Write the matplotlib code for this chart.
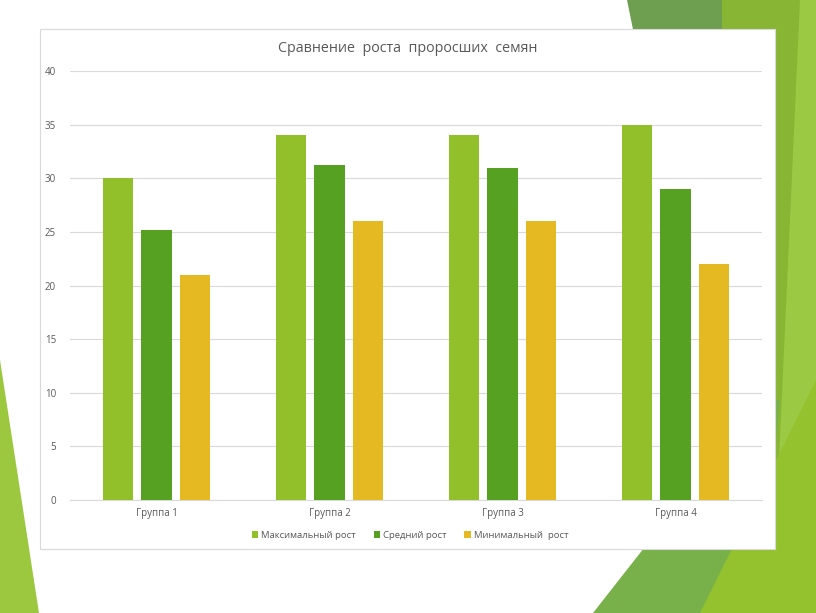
import matplotlib
matplotlib.use("Agg")
import matplotlib.pyplot as plt
from matplotlib.patches import Polygon, Rectangle
import numpy as np

categories = ["Группа 1", "Группа 2", "Группа 3", "Группа 4"]
series_names = ["Максимальный рост", "Средний рост", "Минимальный  рост"]
max_growth = [30, 34, 34, 35]
mean_growth = [25.2, 31.2, 31, 29]
min_growth = [21, 26, 26, 22]
colors = ["#92c02a", "#56a022", "#e4b921"]
title = "Сравнение  роста  проросших  семян"

W, H = 816, 613
fig = plt.figure(figsize=(W / 100, H / 100), dpi=100)
fig.patch.set_facecolor("white")
plt.rcParams['font.family'] = ['Open Sans', 'DejaVu Sans']

def px(pts):
    return [(x / W, 1 - y / H) for x, y in pts]

# decorative background shapes
shapes = [
    ([(627, 0), (722, 0), (735, 260), (680, 260)], "#6e9f50"),
    ([(722, 0), (816, 0), (816, 613), (722, 613)], "#88b634"),
    ([(800, 0), (816, 0), (816, 613), (772, 613)], "#9bc944"),
    ([(593, 613), (760, 613), (780, 400), (760, 400)], "#78b04a"),
    ([(700, 613), (816, 613), (816, 380)], "#93c22e"),
    ([(0, 360), (39, 613), (0, 613)], "#9cc840"),
]
for pts, c in shapes:
    fig.patches.append(Polygon(px(pts), closed=True, transform=fig.transFigure,
                               facecolor=c, edgecolor="none", zorder=0))

# chart box
fig.patches.append(Rectangle((40 / W, 1 - 549 / H), (775 - 40) / W, (549 - 29) / H,
                             transform=fig.transFigure, facecolor="white",
                             edgecolor="#d9d9d9", linewidth=0.8, zorder=1))

ax = fig.add_axes([70 / W, 1 - 500 / H, (762 - 70) / W, (500 - 71) / H])
ax.set_zorder(2)
ax.patch.set_alpha(0)

x = np.arange(len(categories))
bw = 0.175
off = 0.223
for i, (vals, c, name) in enumerate(zip([max_growth, mean_growth, min_growth], colors, series_names)):
    ax.bar(x + (i - 1) * off, vals, width=bw, color=c, label=name, zorder=3)

ax.set_xlim(-0.5, len(categories) - 0.5)
ax.set_ylim(0, 40)
ax.set_yticks(range(0, 41, 5))
ax.grid(axis="y", color="#d9d9d9", linewidth=0.8, zorder=0)
ax.set_axisbelow(True)
for s in ["top", "right", "left"]:
    ax.spines[s].set_visible(False)
ax.spines["bottom"].set_color("#d9d9d9")
ax.spines["bottom"].set_linewidth(0.8)
ax.tick_params(axis="both", length=0, colors="#595959", labelsize=7)
ax.tick_params(axis="y", pad=10)
ax.tick_params(axis="x", pad=6)
ax.set_xticks(x)
ax.set_xticklabels(categories)

fig.text(408 / W, 1 - 48 / H, title, ha="center", va="center", fontsize=10.3, color="#595959")

fig.legend(loc="center", bbox_to_anchor=(410 / W, 1 - 535 / H), ncol=3, frameon=False,
           fontsize=6.8, labelcolor="#595959", handlelength=0.7, handleheight=0.7,
           handletextpad=0.3, columnspacing=1.9)

fig.savefig("out.png", dpi=100)
